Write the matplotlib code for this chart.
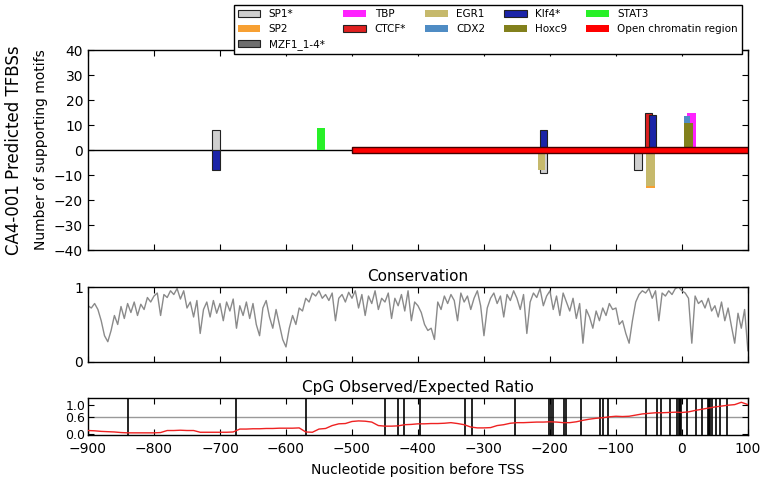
import matplotlib
matplotlib.use("Agg")
import matplotlib.pyplot as plt
from matplotlib.patches import Patch

# TFBS bars: (factor, centre position, signed motif count, width)
tfbsFactors = ["SP1*", "Klf4*", "STAT3",
               "SP1*", "EGR1", "Klf4*",
               "SP1*", "SP2", "EGR1", "CTCF*", "Klf4*",
               "TBP", "CDX2", "Hoxc9"]
tfbsPositions = [-706, -706, -547,
                 -210, -213, -210,
                 -67, -48, -48, -51, -45,
                 14, 8, 10]
tfbsCounts = [8, -8, 9,
              -9, -8, 8,
              -8, -15, -14.5, 15, 14,
              15, 13.5, 11]
tfbsWidths = [11, 11, 12,
              11, 11, 10,
              12, 14, 14, 10, 10,
              14, 10, 13]

openChromatinStart = -500
openChromatinEnd = 100

legendLabels = ["SP1*", "SP2", "MZF1_1-4*", "TBP", "CTCF*", "EGR1", "CDX2",
                "Klf4*", "Hoxc9", "STAT3", "Open chromatin region"]

# conservation score every 5 nt from -900 to 100
consPositions = list(range(-900, 101, 5))
consScores = [
    0.75, 0.72, 0.78, 0.70, 0.55, 0.35, 0.27, 0.42, 0.62, 0.50,
    0.74, 0.58, 0.78, 0.66, 0.80, 0.62, 0.77, 0.70, 0.86, 0.80,
    0.88, 0.92, 0.62, 0.90, 0.86, 0.95, 0.90, 0.98, 0.84, 0.95,
    0.72, 0.80, 0.60, 0.82, 0.38, 0.70, 0.80, 0.60, 0.82, 0.65,
    0.78, 0.55, 0.80, 0.68, 0.84, 0.45, 0.75, 0.62, 0.80, 0.58,
    0.78, 0.50, 0.35, 0.72, 0.82, 0.60, 0.45, 0.70, 0.50, 0.30,
    0.20, 0.45, 0.62, 0.50, 0.72, 0.68, 0.85, 0.80, 0.92, 0.88,
    0.95, 0.85, 0.90, 0.82, 0.92, 0.55, 0.85, 0.90, 0.80, 0.93,
    0.85, 0.95, 0.72, 0.90, 0.62, 0.88, 0.78, 0.95, 0.70, 0.85,
    0.80, 0.92, 0.58, 0.85, 0.75, 0.90, 0.68, 0.95, 0.55, 0.80,
    0.75, 0.66, 0.50, 0.42, 0.45, 0.30, 0.80, 0.70, 0.88, 0.78,
    0.90, 0.82, 0.55, 0.92, 0.80, 0.88, 0.70, 0.85, 0.95, 0.75,
    0.35, 0.72, 0.85, 0.92, 0.78, 0.88, 0.60, 0.90, 0.82, 0.95,
    0.85, 0.70, 0.90, 0.38, 0.80, 0.92, 0.86, 0.98, 0.75, 0.88,
    0.95, 0.70, 0.88, 0.62, 0.92, 0.80, 0.68, 0.85, 0.58, 0.78,
    0.25, 0.70, 0.60, 0.45, 0.68, 0.55, 0.72, 0.62, 0.78, 0.70,
    0.72, 0.50, 0.55, 0.38, 0.25, 0.55, 0.80, 0.90, 0.95, 0.92,
    0.98, 0.85, 0.95, 0.55, 0.92, 0.88, 0.95, 0.90, 0.98, 1.00,
    0.95, 0.92, 0.85, 0.25, 0.88, 0.78, 0.82, 0.72, 0.85, 0.68,
    0.75, 0.60, 0.80, 0.55, 0.72, 0.48, 0.25, 0.65, 0.45, 0.70,
    0.15,
]

# CpG observed/expected ratio every 10 nt
cpgPositions = list(range(-900, 101, 10))
cpgRatio = [
    0.13, 0.12, 0.10, 0.09, 0.08, 0.06, 0.05, 0.05, 0.05, 0.05,
    0.05, 0.06, 0.13, 0.13, 0.14, 0.13, 0.13, 0.07, 0.07, 0.07,
    0.07, 0.07, 0.08, 0.18, 0.18, 0.19, 0.19, 0.20, 0.20, 0.21,
    0.21, 0.21, 0.22, 0.08, 0.07, 0.18, 0.20, 0.30, 0.36, 0.37,
    0.44, 0.46, 0.45, 0.42, 0.30, 0.28, 0.28, 0.29, 0.33, 0.34,
    0.36, 0.36, 0.37, 0.37, 0.38, 0.40, 0.37, 0.33, 0.25, 0.22,
    0.22, 0.23, 0.30, 0.33, 0.38, 0.40, 0.40, 0.41, 0.42, 0.42,
    0.43, 0.42, 0.40, 0.40, 0.43, 0.48, 0.52, 0.55, 0.57, 0.60,
    0.62, 0.61, 0.62, 0.66, 0.70, 0.72, 0.74, 0.74, 0.75, 0.76,
    0.75, 0.77, 0.82, 0.86, 0.90, 0.94, 0.97, 1.00, 1.02, 1.10,
    1.02,
]
cpgSites = [-840, -676, -570, -450, -431, -421, -397, -328, -318, -253,
            -201, -198, -196, -179, -176, -153, -124, -119, -112,
            -55, -38, -31, -18, -7, -4, -3, -1, 7, 22, 30,
            40, 41, 43, 45, 52, 58, 68]

xTicks = list(range(-900, 101, 100))

factorColors = {
    "SP1*": "#cfcfcf", "SP2": "#f7a032", "MZF1_1-4*": "#6e6e6e",
    "TBP": "#ff22ff", "CTCF*": "#e02020", "EGR1": "#c6b96c",
    "CDX2": "#4f8cc4", "Klf4*": "#1b24a8", "Hoxc9": "#82801c",
    "STAT3": "#28f028", "Open chromatin region": "#ff0000",
}


def EdgeFor(name):
    # starred factors are drawn with a black outline
    return "#222222" if name.endswith("*") else "none"


def StyleAxis(ax):
    ax.tick_params(direction="in", top=True, right=True, length=4,
                   labelsize=10, width=0.8)
    ax.set_xlim(-900, 100)
    ax.set_xticks(xTicks)
    for s in ax.spines.values():
        s.set_linewidth(1.0)


fig = plt.figure(figsize=(7.62, 4.8), dpi=100)

# --- TFBS panel ---
axT = fig.add_axes([0.1155, 0.479, 0.866, 0.4167])
StyleAxis(axT)
axT.axhline(0, color="black", lw=1, zorder=1)
for name, pos, cnt, w in zip(tfbsFactors, tfbsPositions, tfbsCounts, tfbsWidths):
    axT.bar(pos, cnt, width=w, color=factorColors[name],
            edgecolor=EdgeFor(name), linewidth=0.8, zorder=2)
axT.barh(0, openChromatinEnd - openChromatinStart, left=openChromatinStart,
         height=2.6, color=factorColors["Open chromatin region"],
         edgecolor="#440000", linewidth=1.0, zorder=3)
axT.set_ylim(-40, 40)
axT.set_yticks(range(-40, 41, 10))
axT.set_xticklabels([])
axT.set_ylabel("Number of supporting motifs", fontsize=10, labelpad=4)
axT.text(-0.112, 0.5, "CA4-001 Predicted TFBSs", rotation=90, fontsize=12,
         ha="center", va="center", transform=axT.transAxes)

handles = [Patch(facecolor=factorColors[n], edgecolor=EdgeFor(n), linewidth=0.8)
           for n in legendLabels]
leg = fig.legend(handles, legendLabels, ncol=5, loc="upper right",
                 bbox_to_anchor=(0.98, 1.0), fontsize=7.5, frameon=True,
                 fancybox=False, framealpha=1.0, handlelength=2.2,
                 handletextpad=0.8, columnspacing=1.8, labelspacing=0.5,
                 borderpad=0.35)
leg.get_frame().set_edgecolor("black")
leg.get_frame().set_linewidth(1.0)

# --- conservation panel ---
axC = fig.add_axes([0.1155, 0.246, 0.866, 0.156])
StyleAxis(axC)
axC.plot(consPositions, consScores, color="#8a8a8a", lw=1.0)
axC.set_ylim(0, 1)
axC.set_yticks([0, 1])
axC.set_yticklabels(["0", "1"])
axC.set_xticklabels([])
axC.set_title("Conservation", fontsize=11, pad=4)

# --- CpG panel ---
axG = fig.add_axes([0.1155, 0.094, 0.866, 0.077])
StyleAxis(axG)
axG.axhline(0.6, color="#999999", lw=1.0, zorder=1)
axG.vlines(cpgSites, 0, 1, transform=axG.get_xaxis_transform(),
           color="black", lw=1.2, zorder=2)
axG.plot(cpgPositions, cpgRatio, color="#ee2222", lw=1.0, zorder=3)
axG.set_ylim(-0.02, 1.25)
axG.set_yticks([0.0, 0.6, 1.0])
axG.set_yticklabels(["0.0", "0.6", "1.0"])
axG.tick_params(axis="y", pad=2, labelsize=9)
axG.tick_params(axis="x", pad=5)
axG.set_title("CpG Observed/Expected Ratio", fontsize=11, pad=4)
axG.set_xlabel("Nucleotide position before TSS", fontsize=10, labelpad=5)

fig.savefig("out.png", dpi=100, facecolor="white")
